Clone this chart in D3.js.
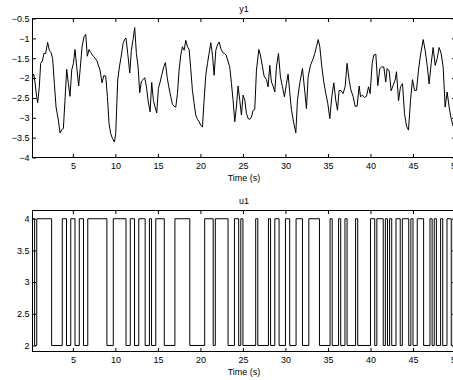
<!DOCTYPE html>
<html>
<head>
<meta charset="utf-8">
<script src="https://cdn.jsdelivr.net/npm/d3@7"></script>
<style>
  body { margin: 0; background: #fff; }
  text { font-family: "Liberation Sans", Arial, Helvetica, sans-serif; }
</style>
</head>
<body>
<div id="container"></div>
<script>
// output y1 (time in s, value)
const y1Time = [0.25,0.39,0.54,0.74,0.86,1.05,1.21,1.41,1.60,1.80,2.03,2.23,2.43,2.62,2.82,3.02,3.29,3.49,3.68,3.88,
  4.07,4.27,4.47,4.66,4.86,5.06,5.25,5.45,5.68,5.88,6.08,6.31,6.51,6.70,6.90,7.10,7.41,7.80,8.19,8.43,
  8.63,8.86,9.06,9.25,9.45,9.65,9.88,10.04,10.27,10.47,10.67,10.90,11.10,11.25,11.45,11.69,11.88,12.08,12.27,12.47,
  12.67,12.86,13.06,13.25,13.45,13.65,13.84,14.08,14.27,14.47,14.67,14.86,15.06,15.26,15.49,15.69,15.88,16.08,16.28,16.51,
  16.71,16.90,17.10,17.30,17.49,17.69,17.88,18.08,18.28,18.47,18.67,18.86,19.06,19.26,19.45,19.65,19.85,20.04,20.24,20.43,
  20.63,20.83,21.02,21.22,21.42,21.61,21.81,22.00,22.20,22.40,22.63,22.83,23.02,23.45,23.65,23.84,24.04,24.23,24.43,24.63,
  24.82,25.02,25.22,25.41,25.61,25.81,26.00,26.20,26.39,26.59,26.87,27.06,27.30,27.49,27.77,27.96,28.16,28.35,28.55,28.75,
  28.94,29.18,29.41,29.65,29.88,30.12,30.31,30.51,30.71,30.98,31.22,31.41,31.69,32.00,32.28,32.47,32.67,32.94,33.26,33.45,
  33.65,33.85,34.04,34.28,34.51,34.75,34.98,35.22,35.45,35.69,35.92,36.12,36.31,36.55,36.78,37.02,37.25,37.49,37.69,37.96,
  38.20,38.43,38.67,38.83,39.06,39.30,39.53,39.77,39.96,40.20,40.39,40.63,40.86,41.10,41.33,41.57,41.80,41.96,42.20,42.43,
  42.67,42.90,43.06,43.30,43.53,43.77,44.00,44.24,44.47,44.71,44.94,45.18,45.41,45.65,45.88,46.20,46.43,46.67,46.90,47.14,
  47.37,47.61,47.84,48.08,48.31,48.55,48.78,49.02,49.25,49.49,49.72,50.00];
const y1Value = [-1.97,-1.90,-2.10,-2.47,-2.62,-2.22,-1.63,-1.57,-1.38,-1.38,-1.10,-1.30,-1.36,-1.51,-2.14,-2.73,-3.06,-3.38,-3.30,-3.27,
  -2.56,-1.78,-2.14,-2.46,-1.80,-1.63,-1.28,-1.72,-2.20,-1.72,-1.21,-0.96,-0.90,-1.45,-1.28,-1.36,-1.45,-1.55,-1.80,-2.12,
  -1.94,-1.95,-2.47,-3.14,-3.40,-3.52,-3.61,-3.40,-2.05,-1.72,-1.47,-1.13,-1.02,-0.99,-1.38,-1.87,-1.30,-1.03,-0.73,-1.38,
  -1.72,-2.37,-2.08,-2.04,-1.99,-2.22,-2.56,-2.85,-2.11,-2.56,-2.73,-2.88,-2.26,-2.10,-1.89,-1.72,-1.61,-1.97,-2.22,-2.47,
  -2.66,-2.71,-2.73,-2.39,-1.80,-1.42,-1.21,-1.30,-1.05,-1.21,-1.28,-1.76,-2.31,-2.64,-2.93,-3.04,-3.10,-3.19,-3.23,-2.56,
  -1.93,-1.63,-1.38,-1.11,-1.42,-1.93,-1.30,-1.17,-1.09,-1.26,-1.36,-1.38,-1.42,-1.72,-2.14,-2.56,-3.10,-2.73,-2.20,-2.56,
  -2.93,-2.43,-2.56,-2.89,-3.02,-3.04,-2.98,-2.81,-2.79,-1.80,-1.28,-1.42,-1.72,-1.95,-2.04,-2.22,-1.68,-2.10,-2.20,-2.35,
  -1.72,-1.38,-1.97,-2.22,-2.47,-2.14,-1.90,-2.37,-2.81,-3.14,-3.38,-2.56,-2.12,-1.76,-2.35,-2.77,-1.97,-1.68,-1.51,-1.38,
  -1.21,-1.03,-1.21,-1.72,-2.10,-2.39,-2.64,-3.02,-2.47,-2.12,-2.56,-2.81,-2.31,-2.32,-2.39,-2.22,-1.63,-2.05,-2.29,-2.47,
  -2.71,-2.71,-2.20,-2.47,-2.43,-2.49,-2.46,-2.22,-2.39,-1.63,-1.42,-1.40,-2.19,-1.76,-1.72,-1.72,-2.10,-1.76,-1.82,-2.32,
  -2.18,-2.05,-1.84,-2.57,-2.22,-2.14,-2.89,-3.21,-3.31,-2.56,-2.04,-2.31,-2.31,-1.80,-1.42,-1.03,-1.30,-1.68,-2.15,-1.63,
  -1.23,-1.68,-1.51,-1.23,-1.38,-1.72,-2.73,-2.35,-2.73,-3.02,-3.21,-3.27];

// input u1: level held from each switch time until the next one
const u1Time = [0.25,0.5,0.75,2.5,3.75,4.25,4.75,5.25,5.75,6.25,6.75,9.0,9.75,11.25,11.75,12.25,12.75,13.5,14.0,14.25,
  14.75,15.75,17.0,18.75,20.5,21.5,21.75,23.25,24.0,24.5,24.75,25.0,26.5,26.75,28.0,28.25,28.75,29.25,30.0,30.5,
  31.25,32.0,32.75,34.0,35.25,35.5,36.25,36.5,37.0,37.25,38.25,38.5,40.0,40.5,40.75,41.5,41.75,42.0,42.25,42.5,
  43.0,43.5,43.75,44.5,44.75,45.0,45.5,46.25,47.0,47.25,47.5,47.75,48.25,48.5,49.0,49.5,49.75,50.0];
const u1Value = [4,2,4,2,4,2,4,2,4,2,4,2,4,2,4,2,4,2,4,2,
  4,2,4,2,4,2,4,2,4,2,4,2,4,2,4,2,4,2,4,2,
  4,2,4,2,4,2,4,2,4,2,4,2,4,2,4,2,4,2,4,2,
  4,2,4,2,4,2,4,2,4,2,4,2,4,2,4,2,4,4];

const xTicks = [5,10,15,20,25,30,35,40,45,50];
const y1Ticks = [-4,-3.5,-3,-2.5,-2,-1.5,-1,-0.5];
const u1Ticks = [2,2.5,3,3.5,4];
const titles = ["y1", "u1"];
const xLabel = "Time (s)";

const W = 453, H = 380;
const left = 32.5, right = 455.5;
const fmt = d => String(d).replace("-", "\u2212");

const svg = d3.select("#container").append("svg")
  .attr("width", W).attr("height", H);
svg.append("rect").attr("width", W).attr("height", H).attr("fill", "#fff");

const x = d3.scaleLinear().domain([0.25, 50]).range([left, right]);

function panel(top, bottom, yDomain, yTicks, title, pts, curve) {
  const y = d3.scaleLinear().domain(yDomain).range([bottom, top]);
  const g = svg.append("g");

  g.append("path")
    .datum(pts)
    .attr("fill", "none")
    .attr("stroke", "#000")
    .attr("stroke-width", 1)
    .attr("d", d3.line().curve(curve).x(d => x(d[0])).y(d => y(d[1])));

  const tick = -3.5;
  g.append("g").attr("transform", "translate(0," + bottom + ")")
    .call(d3.axisBottom(x).tickValues(xTicks).tickFormat(fmt).tickSizeInner(tick).tickSizeOuter(0).tickPadding(5));
  g.append("g").attr("transform", "translate(0," + top + ")")
    .call(d3.axisTop(x).tickValues(xTicks).tickFormat("").tickSizeInner(tick).tickSizeOuter(0));
  g.append("g").attr("transform", "translate(" + left + ",0)")
    .call(d3.axisLeft(y).tickValues(yTicks).tickFormat(fmt).tickSizeInner(tick).tickSizeOuter(0).tickPadding(3));
  g.append("g").attr("transform", "translate(" + right + ",0)")
    .call(d3.axisRight(y).tickValues(yTicks).tickFormat("").tickSizeInner(tick).tickSizeOuter(0));

  g.selectAll(".domain").remove();
  g.selectAll(".tick line").attr("stroke", "#000");
  g.selectAll(".tick text").attr("fill", "#000").attr("font-size", 9)
    .attr("font-family", "'Liberation Sans', Arial, sans-serif");

  g.append("rect")
    .attr("x", left).attr("y", top)
    .attr("width", right - left).attr("height", bottom - top)
    .attr("fill", "none").attr("stroke", "#000").attr("stroke-width", 1);

  g.append("text").attr("x", (left + right) / 2).attr("y", top - 7)
    .attr("text-anchor", "middle").attr("font-size", 9).text(title);
  g.append("text").attr("x", (left + right) / 2).attr("y", bottom + 23)
    .attr("text-anchor", "middle").attr("font-size", 9).text(xLabel);
}

panel(18.5, 157.5, [-4, -0.5], y1Ticks, titles[0],
  y1Time.map((t, i) => [t, y1Value[i]]), d3.curveLinear);
panel(210.5, 351.5, [1.905, 4.13], u1Ticks, titles[1],
  u1Time.map((t, i) => [t, u1Value[i]]), d3.curveStepAfter);
</script>
</body>
</html>
